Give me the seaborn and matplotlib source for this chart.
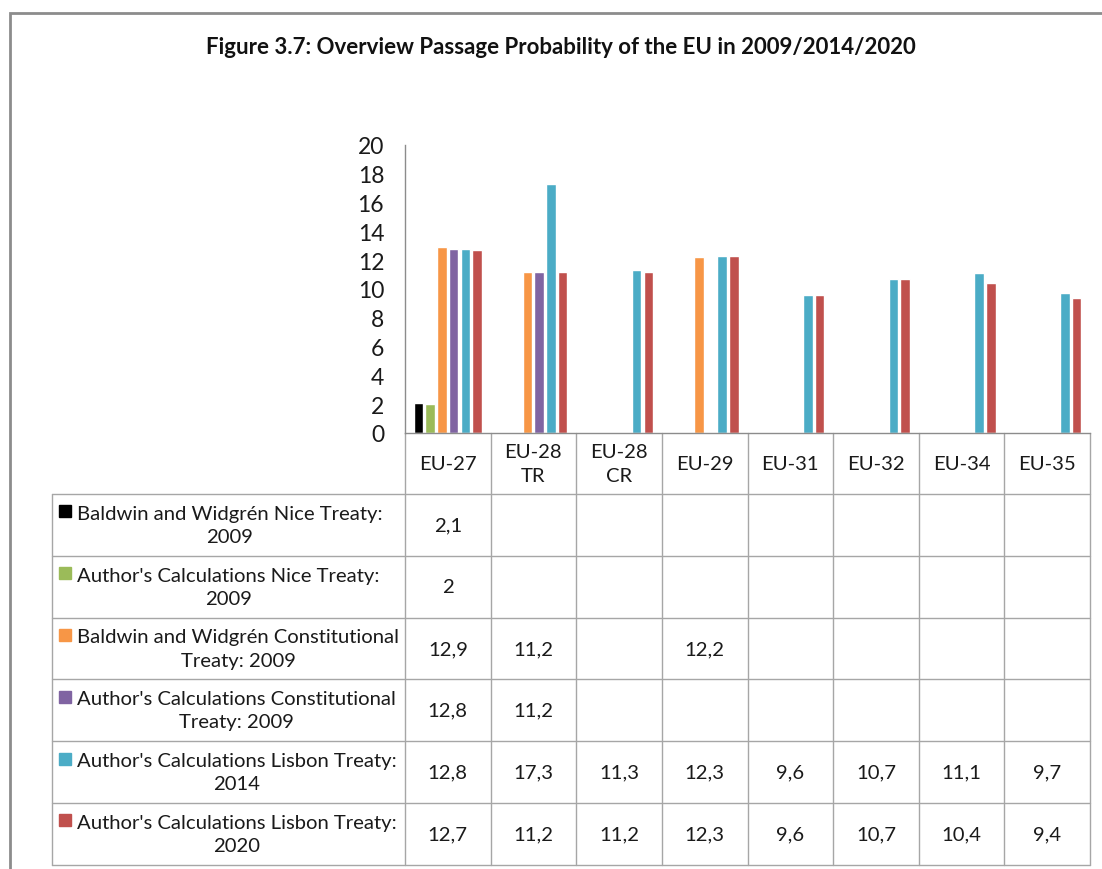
import numpy as np
import pandas as pd
import matplotlib
matplotlib.use("Agg")
import matplotlib.pyplot as plt
import seaborn as sns
from matplotlib.lines import Line2D
from matplotlib.patches import Rectangle

# --------------------------------------------------------------
# Data
# --------------------------------------------------------------
categories = ["EU-27", "EU-28\nTR", "EU-28\nCR", "EU-29", "EU-31", "EU-32", "EU-34", "EU-35"]
series_names = [
    "Baldwin and Widgrén Nice Treaty:\n2009",
    "Author's Calculations Nice Treaty:\n2009",
    "Baldwin and Widgrén Constitutional\nTreaty: 2009",
    "Author's Calculations Constitutional\nTreaty: 2009",
    "Author's Calculations Lisbon Treaty:\n2014",
    "Author's Calculations Lisbon Treaty:\n2020",
]
nan = np.nan
baldwin_nice_2009 = [2.1, nan, nan, nan, nan, nan, nan, nan]
author_nice_2009 = [2.0, nan, nan, nan, nan, nan, nan, nan]
baldwin_const_2009 = [12.9, 11.2, nan, 12.2, nan, nan, nan, nan]
author_const_2009 = [12.8, 11.2, nan, nan, nan, nan, nan, nan]
author_lisbon_2014 = [12.8, 17.3, 11.3, 12.3, 9.6, 10.7, 11.1, 9.7]
author_lisbon_2020 = [12.7, 11.2, 11.2, 12.3, 9.6, 10.7, 10.4, 9.4]
all_series = [baldwin_nice_2009, author_nice_2009, baldwin_const_2009,
              author_const_2009, author_lisbon_2014, author_lisbon_2020]
colors = ["#000000", "#9BBB59", "#F79646", "#8064A2", "#4BACC6", "#C0504D"]

rows = []
for name, vals in zip(series_names, all_series):
    for cat, v in zip(categories, vals):
        rows.append({"cat": cat, "series": name, "value": v})
df = pd.DataFrame(rows)

# --------------------------------------------------------------
# Figure
# --------------------------------------------------------------
sns.set_style("white")
plt.rcParams["font.family"] = ["Lato", "DejaVu Sans"]

W, H = 1102, 870
fig = plt.figure(figsize=(W / 100, H / 100), dpi=100)

# outer frame
fig.add_artist(Rectangle((10 / W, -0.1), 1.2, (H - 14) / H + 0.1, transform=fig.transFigure,
                         fill=False, edgecolor="#8c8c8c", linewidth=2))

fig.text(561 / W, 1 - 47 / H, "Figure 3.7: Overview Passage Probability of the EU in 2009/2014/2020",
         ha="center", va="center", fontsize=16, fontweight="bold", color="#111111")

ax_left, ax_right, ax_top, ax_bottom = 405, 1090, 146, 434
ax = fig.add_axes([ax_left / W, 1 - ax_bottom / H, (ax_right - ax_left) / W, (ax_bottom - ax_top) / H])

sns.barplot(data=df, x="cat", y="value", hue="series", order=categories,
            hue_order=series_names, palette=colors, width=0.82, gap=0.18,
            saturation=1, legend=False, ax=ax)

ax.set_xlim(-0.5, len(categories) - 0.5)
ax.set_ylim(0, 20)
ax.set_yticks(range(0, 21, 2))
ax.set_xticks([])
ax.set_xlabel("")
ax.set_ylabel("")
for s in ["top", "right"]:
    ax.spines[s].set_visible(False)
for s in ["left", "bottom"]:
    ax.spines[s].set_color("#8c8c8c")
    ax.spines[s].set_linewidth(1)
ax.tick_params(axis="y", length=7, width=1, color="#8c8c8c", labelsize=16.5, labelcolor="#1a1a1a", pad=8)

# --------------------------------------------------------------
# Data table below the plot
# --------------------------------------------------------------
ph = ax_bottom - ax_top
def yfrac(px):
    return (ax_bottom - px) / ph

px_per_unit = (ax_right - ax_left) / len(categories)
label_left = -0.5 - (ax_left - 52) / px_per_unit
header_bottom = 495
row_h = 61.8
n = len(categories)
tr = ax.get_xaxis_transform()
line_kw = dict(color="#a6a6a6", linewidth=1, transform=tr, clip_on=False)
bottom_px = header_bottom + row_h * len(series_names)

for i in range(n + 1):
    ax.add_line(Line2D([i - 0.5, i - 0.5], [0, yfrac(bottom_px)], **line_kw))
ax.add_line(Line2D([label_left, label_left], [yfrac(header_bottom), yfrac(bottom_px)], **line_kw))
for r in range(len(series_names) + 1):
    yy = yfrac(header_bottom + r * row_h)
    ax.add_line(Line2D([label_left, n - 0.5], [yy, yy], **line_kw))

txt_kw = dict(transform=tr, clip_on=False, fontsize=14.6, color="#1a1a1a", linespacing=1.45)
for j, cat in enumerate(categories):
    ax.text(j, yfrac((ax_bottom + header_bottom) / 2), cat, ha="center", va="center", **txt_kw)

label_text_x = label_left + (77 - 52) / px_per_unit
for r, (name, vals, c) in enumerate(zip(series_names, all_series, colors)):
    ymid = header_bottom + (r + 0.5) * row_h
    ax.text(label_text_x, yfrac(ymid), name, ha="left", va="center", multialignment="center", **txt_kw)
    ax.add_line(Line2D([label_left + 13 / px_per_unit], [yfrac(ymid - 13.5)], marker="s", markersize=8.5,
                       markerfacecolor=c, markeredgecolor=c, linestyle="none", transform=tr, clip_on=False))
    for j, v in enumerate(vals):
        if not np.isnan(v):
            ax.text(j, yfrac(ymid), f"{v:g}".replace(".", ","), ha="center", va="center", **txt_kw)

plt.savefig("out.png", dpi=100)
